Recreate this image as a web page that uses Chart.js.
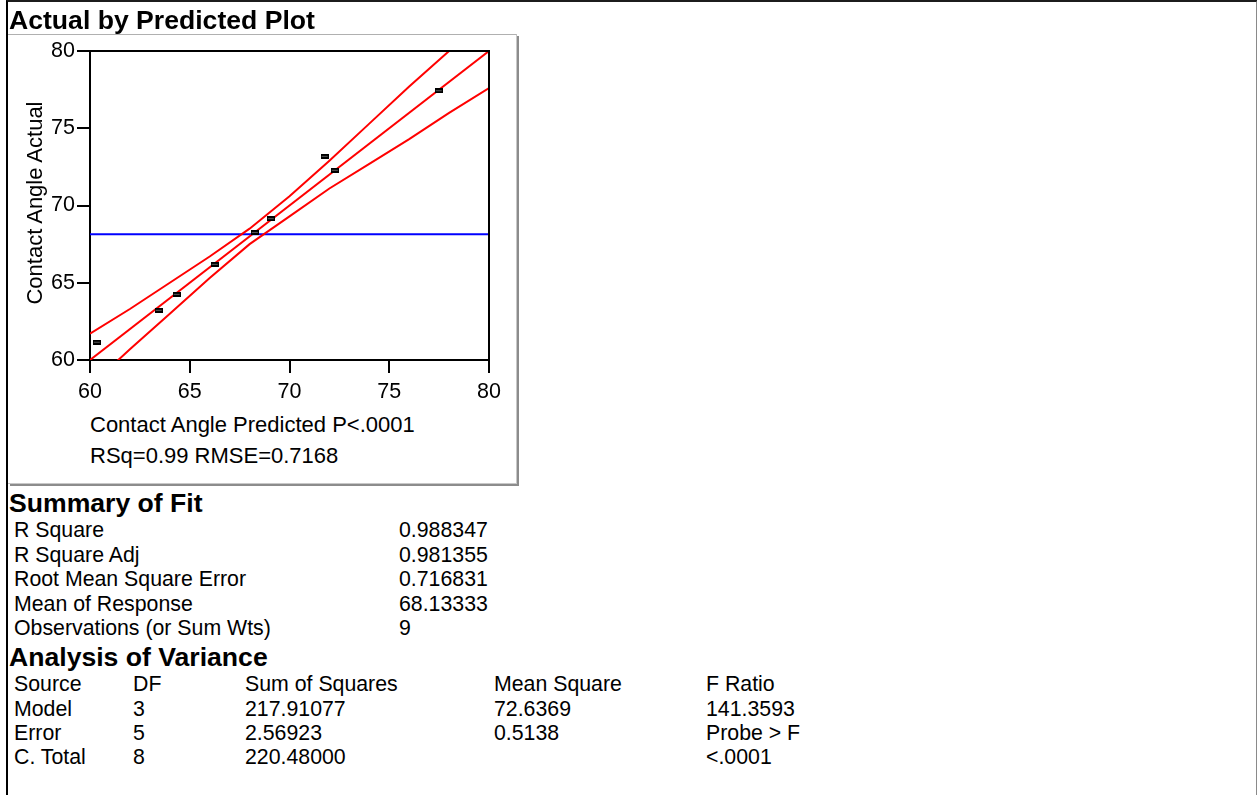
<!DOCTYPE html>
<html>
<head>
<meta charset="utf-8">
<script src="https://cdn.jsdelivr.net/npm/chart.js@4/dist/chart.umd.min.js"></script>
<style>
  html, body { margin: 0; padding: 0; background: #fff; }
  body { width: 1257px; height: 795px; position: relative; overflow: hidden;
         font-family: "Liberation Sans", Arial, sans-serif; color: #000; }
  #frame { position: absolute; left: 6px; top: 0; width: 1248px; height: 800px;
           border-top: 2px solid #1c1c1c; border-left: 2px solid #000; border-right: 2px solid #8a8a8a; }
  #plotbox { position: absolute; left: 8px; top: 34px; width: 508px; height: 448px;
             border-top: 1px solid #b0b0b0; border-right: 1px solid #c8c8c8; border-bottom: 1px solid #c8c8c8;
             box-shadow: 2px 2px 0 #8c8c8c; }
  .t { position: absolute; white-space: pre; line-height: 1; }
  .b { font-weight: bold; }
</style>
</head>
<body>
<div id="frame"></div>
<div id="plotbox"></div>
<canvas id="chart" width="530" height="400" style="position:absolute;left:0;top:0;"></canvas>
<div id="texts"></div>
<script>
// Observations: predicted vs actual contact angle
const predicted = [60.34, 63.44, 64.34, 66.25, 68.26, 69.06, 71.76, 72.27, 77.48];
const actual    = [61.15, 63.22, 64.25, 66.19, 68.26, 69.15, 73.18, 72.28, 77.43];

// Fit line and confidence curves
const fitX = [60, 80];
const fitY = [60, 80];
const bandX     = [60, 62, 64, 66, 68, 70, 72, 74, 76, 78, 80];
const upperBand = [61.7, 63.3, 65.0, 66.7, 68.5, 70.6, 72.9, 75.3, 77.7, 80.0, 82.4];
const lowerBand = [58.3, 60.7, 63.0, 65.3, 67.5, 69.3, 71.1, 72.7, 74.3, 76.0, 77.6];

// Mean of response (horizontal reference)
const meanResponse = 68.13333;

// Axis ticks
const axisMin = 60, axisMax = 80, tickStep = 5;

// Report text
const plotTitle = 'Actual by Predicted Plot';
const xTitle = 'Contact Angle Predicted P<.0001';
const fitNote = 'RSq=0.99 RMSE=0.7168';
const yTitle = 'Contact Angle Actual';
const summaryLabels = ['R Square', 'R Square Adj', 'Root Mean Square Error', 'Mean of Response', 'Observations (or Sum Wts)'];
const summaryValues = ['0.988347', '0.981355', '0.716831', '68.13333', '9'];
const anovaHeader = ['Source', 'DF', 'Sum of Squares', 'Mean Square', 'F Ratio'];
const anovaModel  = ['Model', '3', '217.91077', '72.6369', '141.3593'];
const anovaError  = ['Error', '5', '2.56923', '0.5138', 'Probe > F'];
const anovaTotal  = ['C. Total', '8', '220.48000', '', '<.0001'];

const FONT = '"Liberation Sans", Arial, sans-serif';
const HEAD = 26.6, BODY = 21.3, PLOT = 22;

// ---- text layout (positioned by baseline) ----
const texts = document.getElementById('texts');
function put(str, x, baseline, size, bold) {
  const d = document.createElement('div');
  d.className = 't' + (bold ? ' b' : '');
  d.style.fontSize = size + 'px';
  d.style.left = x + 'px';
  d.style.top = (baseline - 0.8465 * size) + 'px';
  d.textContent = str;
  texts.appendChild(d);
  return d;
}
put(plotTitle, 9, 29.5, HEAD, true);
put(xTitle, 90, 432.5, PLOT, false);
put(fitNote, 90, 464, PLOT, false);

// rotated y-axis title
const yt = document.createElement('div');
yt.className = 't';
yt.style.fontSize = PLOT + 'px';
yt.style.width = '300px';
yt.style.textAlign = 'center';
yt.style.left = (34.5 - 150) + 'px';
yt.style.top = (202.5 - PLOT / 2) + 'px';
yt.style.transform = 'rotate(-90deg)';
yt.style.transformOrigin = '150px ' + (PLOT / 2) + 'px';
yt.textContent = yTitle;
texts.appendChild(yt);

put('Summary of Fit', 9, 513, HEAD, true);
summaryLabels.forEach((s, i) => put(s, 14, 538 + i * 24.6, BODY, false));
summaryValues.forEach((s, i) => put(s, 399, 538 + i * 24.6, BODY, false));

put('Analysis of Variance', 9, 666.5, HEAD, true);
const anovaCols = [14, 133, 245, 494, 706];
[anovaHeader, anovaModel, anovaError, anovaTotal].forEach((row, r) => {
  row.forEach((s, c) => { if (s) put(s, anovaCols[c], 692.3 + r * 24.4, BODY, false); });
});

// ---- marker glyph ----
const marker = document.createElement('canvas');
marker.width = 8; marker.height = 5;
(function () {
  const g = marker.getContext('2d');
  g.fillStyle = '#000';
  g.fillRect(0, 0, 8, 5);
  g.fillStyle = '#5a5a5a';
  g.fillRect(1, 2, 6, 1);
})();

// ---- chart ----
const pts = predicted.map((p, i) => ({ x: p, y: actual[i] }));
const fitPts = fitX.map((x, i) => ({ x, y: fitY[i] }));
const upPts = bandX.map((x, i) => ({ x, y: upperBand[i] }));
const loPts = bandX.map((x, i) => ({ x, y: lowerBand[i] }));
const meanPts = [{ x: axisMin, y: meanResponse }, { x: axisMax, y: meanResponse }];

// closes the frame on the top and right sides of the plot area
const boxBorder = {
  id: 'boxBorder',
  afterDatasetsDraw(chart) {
    const { ctx, chartArea: a } = chart;
    ctx.save();
    ctx.strokeStyle = '#000';
    ctx.lineWidth = 2;
    ctx.beginPath();
    ctx.moveTo(a.left, a.top);
    ctx.lineTo(a.right, a.top);
    ctx.lineTo(a.right, a.bottom);
    ctx.stroke();
    ctx.restore();
  }
};

const lineStyle = (color) => ({
  type: 'line', borderColor: color, borderWidth: 2, pointRadius: 0,
  fill: false, tension: 0, showLine: true
});

new Chart(document.getElementById('chart'), {
  type: 'scatter',
  data: {
    datasets: [
      Object.assign({ data: meanPts, order: 5 }, lineStyle('#0000ff')),
      Object.assign({ data: upPts, order: 4 }, lineStyle('#ff0000')),
      Object.assign({ data: loPts, order: 3 }, lineStyle('#ff0000')),
      Object.assign({ data: fitPts, order: 2 }, lineStyle('#ff0000')),
      { type: 'scatter', data: pts, pointStyle: marker, pointRadius: 4, order: 1 }
    ]
  },
  options: {
    responsive: false,
    animation: false,
    devicePixelRatio: 1,
    layout: { padding: { top: 51, right: 41, left: 0, bottom: 0 } },
    plugins: { legend: { display: false }, tooltip: { enabled: false } },
    scales: {
      x: {
        type: 'linear', min: axisMin, max: axisMax,
        afterFit(s) { s.height = 40; },
        border: { display: true, color: '#000', width: 2 },
        grid: { drawOnChartArea: false, drawTicks: true, tickLength: 13, color: '#000', lineWidth: 2 },
        ticks: { stepSize: tickStep, color: '#000', padding: 6, font: { family: FONT, size: 21.5 } }
      },
      y: {
        type: 'linear', min: axisMin, max: axisMax,
        afterFit(s) { s.width = 90; },
        border: { display: true, color: '#000', width: 2 },
        grid: { drawOnChartArea: false, drawTicks: true, tickLength: 13, color: '#000', lineWidth: 2 },
        ticks: { stepSize: tickStep, color: '#000', padding: 2, font: { family: FONT, size: 21.5 } }
      }
    }
  },
  plugins: [boxBorder]
});
</script>
</body>
</html>
